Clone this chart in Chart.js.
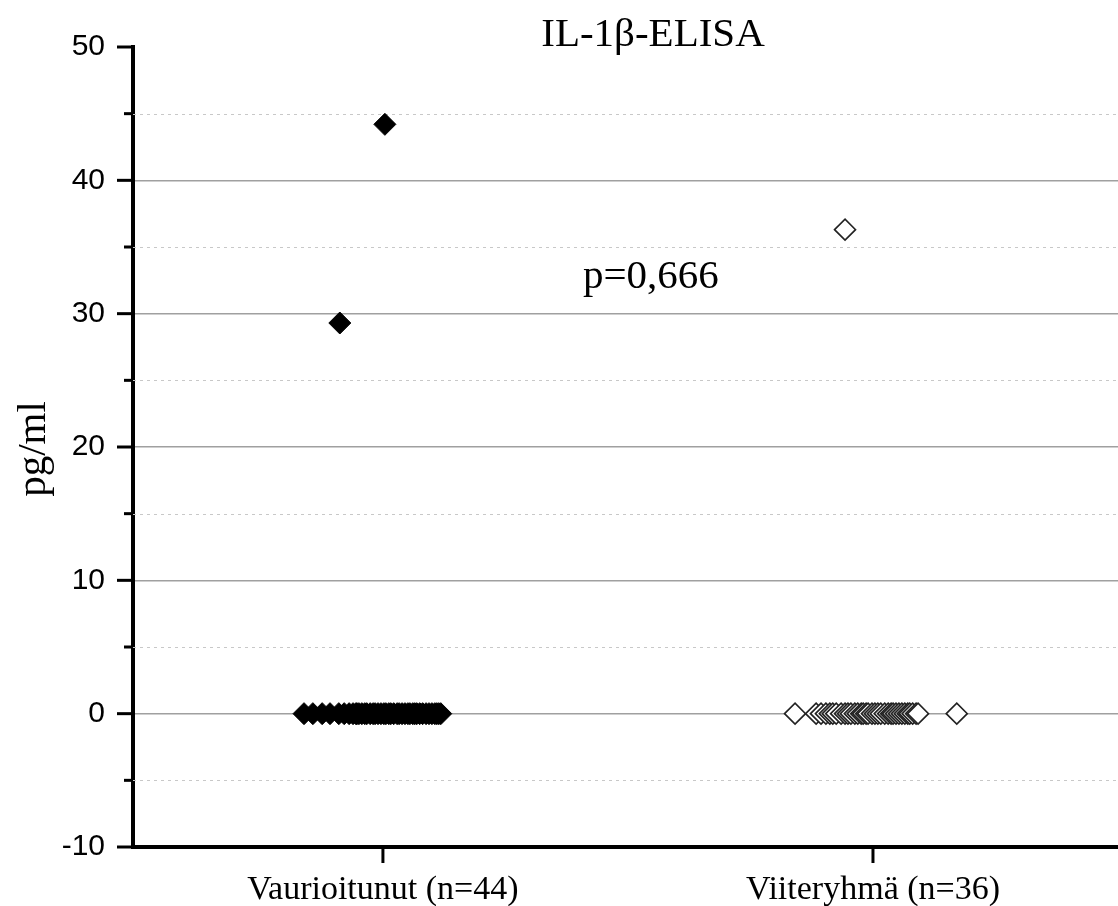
<!DOCTYPE html>
<html>
<head>
<meta charset="utf-8">
<script src="https://cdn.jsdelivr.net/npm/chart.js@4.4.1/dist/chart.umd.min.js"></script>
<style>
  html, body { margin: 0; padding: 0; background: #fff; }
  #wrap { width: 1118px; height: 906px; }
</style>
</head>
<body>
<div id="wrap"><canvas id="cvs_elisa" width="1118" height="906"></canvas></div>
<script>
// ryhmät ja arvot (pg/ml)
const ryhmat = ["Vaurioitunut (n=44)", "Viiteryhmä (n=36)"];

// Vaurioitunut: x = hajautettu sijainti ryhmän ympärillä, y = pitoisuus
const vaurioX = [0.839, 0.857, 0.876, 0.892, 0.910, 0.921, 0.931, 0.939, 0.945, 0.947,
  0.951, 0.957, 0.963, 0.967, 0.974, 0.980, 0.984, 0.990, 0.996, 1.002,
  1.006, 1.012, 1.016, 1.022, 1.029, 1.033, 1.039, 1.045, 1.051, 1.055,
  1.061, 1.065, 1.069, 1.075, 1.081, 1.088, 1.094, 1.100, 1.106, 1.110,
  1.114, 1.118, 0.912, 1.004];
const vaurioY = [0, 0, 0, 0, 0, 0, 0, 0, 0, 0,
  0, 0, 0, 0, 0, 0, 0, 0, 0, 0,
  0, 0, 0, 0, 0, 0, 0, 0, 0, 0,
  0, 0, 0, 0, 0, 0, 0, 0, 0, 0,
  0, 0, 29.3, 44.2];

const viiteX = [1.841, 1.884, 1.894, 1.904, 1.912, 1.918, 1.925, 1.935, 1.943, 1.949,
  1.955, 1.963, 1.969, 1.976, 1.980, 1.986, 1.990, 1.998, 2.004, 2.010,
  2.016, 2.024, 2.031, 2.037, 2.041, 2.047, 2.053, 2.059, 2.065, 2.071,
  2.075, 2.081, 2.088, 2.092, 2.171, 1.943];
const viiteY = [0, 0, 0, 0, 0, 0, 0, 0, 0, 0,
  0, 0, 0, 0, 0, 0, 0, 0, 0, 0,
  0, 0, 0, 0, 0, 0, 0, 0, 0, 0,
  0, 0, 0, 0, 0, 36.3];

const yTicks = [-10, 0, 10, 20, 30, 40, 50];
const yMinor = [-5, 5, 15, 25, 35, 45];

const otsikko = "IL-1β-ELISA";
const pArvo = "p=0,666";
const yOtsikko = "pg/ml";

function pisteet(xs, ys) {
  return xs.map((x, i) => ({ x: x, y: ys[i] }));
}

// omat tekstit, apuviivat ja tikit
const omaPiirto = {
  id: "omaPiirto",
  beforeDatasetsDraw(chart) {
    const ctx = chart.ctx;
    const y = chart.scales.y;
    const a = chart.chartArea;
    ctx.save();
    ctx.strokeStyle = "#c8c8c8";
    ctx.lineWidth = 1.2;
    ctx.setLineDash([3, 4]);
    yMinor.forEach((v) => {
      const py = Math.round(y.getPixelForValue(v)) + 0.5;
      ctx.beginPath();
      ctx.moveTo(a.left, py);
      ctx.lineTo(a.right, py);
      ctx.stroke();
    });
    ctx.restore();
  },
  afterDraw(chart) {
    const ctx = chart.ctx;
    const y = chart.scales.y;
    const x = chart.scales.x;
    const a = chart.chartArea;
    ctx.save();
    ctx.strokeStyle = "#000";
    ctx.lineWidth = 3;
    yTicks.forEach((v) => {
      const py = y.getPixelForValue(v);
      ctx.beginPath();
      ctx.moveTo(a.left - 16, py);
      ctx.lineTo(a.left, py);
      ctx.stroke();
    });
    yMinor.forEach((v) => {
      const py = y.getPixelForValue(v);
      ctx.beginPath();
      ctx.moveTo(a.left - 9, py);
      ctx.lineTo(a.left, py);
      ctx.stroke();
    });
    [1, 2].forEach((v) => {
      const px = x.getPixelForValue(v);
      ctx.beginPath();
      ctx.moveTo(px, a.bottom);
      ctx.lineTo(px, a.bottom + 16);
      ctx.stroke();
    });

    ctx.fillStyle = "#000";
    ctx.textAlign = "center";
    ctx.textBaseline = "alphabetic";
    ctx.font = "41px 'Liberation Serif', 'Times New Roman', serif";
    ctx.fillText(otsikko, 653, 46);
    ctx.textAlign = "left";
    ctx.fillText(pArvo, 583, 288);

    ctx.translate(45, 449);
    ctx.rotate(-Math.PI / 2);
    ctx.textAlign = "center";
    ctx.font = "41px 'Liberation Serif', 'Times New Roman', serif";
    ctx.fillText(yOtsikko, 0, 0);
    ctx.restore();
  },
};

new Chart(document.getElementById("cvs_elisa"), {
  type: "scatter",
  data: {
    datasets: [
      {
        label: ryhmat[0],
        data: pisteet(vaurioX, vaurioY),
        pointStyle: "rectRot",
        pointRadius: 11,
        backgroundColor: "#000",
        borderColor: "#000",
        borderWidth: 1,
      },
      {
        label: ryhmat[1],
        data: pisteet(viiteX, viiteY),
        pointStyle: "rectRot",
        pointRadius: 10.5,
        backgroundColor: "#fff",
        borderColor: "#222",
        borderWidth: 1.6,
      },
    ],
  },
  options: {
    responsive: false,
    animation: false,
    layout: { autoPadding: false, padding: { top: 47, left: 0, right: 0, bottom: 0 } },
    plugins: { legend: { display: false }, tooltip: { enabled: false } },
    scales: {
      x: {
        type: "linear",
        min: 0.49,
        max: 2.5,
        afterBuildTicks: (s) => { s.ticks = [{ value: 1 }, { value: 2 }]; },
        afterFit: (s) => { s.height = 59; },
        ticks: {
          callback: (v) => ryhmat[v - 1],
          color: "#000",
          font: { family: "'Liberation Serif', 'Times New Roman', serif", size: 34 },
          padding: 7,
          maxRotation: 0,
        },
        grid: { drawOnChartArea: false, tickLength: 16, tickColor: "rgba(0,0,0,0)" },
        border: { color: "#000", width: 4 },
      },
      y: {
        min: -10,
        max: 50,
        afterBuildTicks: (s) => { s.ticks = yTicks.map((v) => ({ value: v })); },
        afterFit: (s) => { s.width = 133; },
        ticks: {
          color: "#000",
          font: { family: "'Liberation Sans', Arial, sans-serif", size: 30 },
          padding: 12,
        },
        grid: {
          color: (c) => (c.tick && c.tick.value > -10 && c.tick.value < 50 ? "#a0a0a0" : "rgba(0,0,0,0)"),
          lineWidth: 1.5,
          tickLength: 16,
          tickColor: "rgba(0,0,0,0)",
        },
        border: { color: "#000", width: 4 },
      },
    },
  },
  plugins: [omaPiirto],
});
</script>
</body>
</html>
